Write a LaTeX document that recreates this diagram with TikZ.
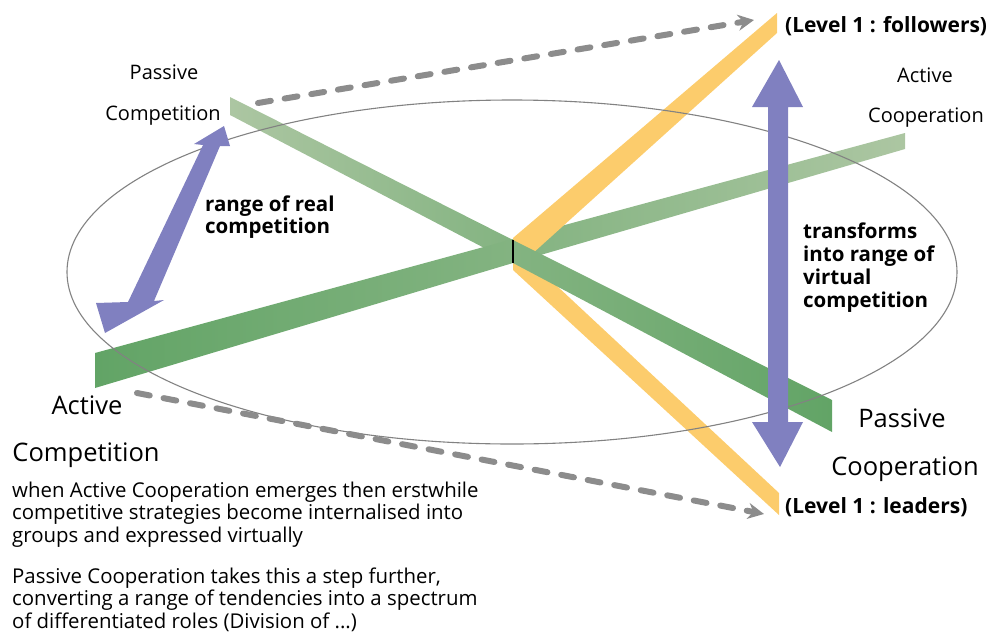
\documentclass[tikz,border=0pt]{standalone}
\usepackage{fontspec}
\setmainfont{Open Sans}
\usetikzlibrary{arrows.meta}
\definecolor{darkG}{RGB}{98,164,102}
\definecolor{lightG}{RGB}{172,198,162}
\colorlet{midG}{darkG!55!lightG}
\definecolor{yel}{RGB}{252,204,108}
\definecolor{blu}{RGB}{128,128,192}
\definecolor{dgray}{RGB}{140,140,140}
\definecolor{egray}{RGB}{130,130,130}
\begin{document}
\begin{tikzpicture}[x=1pt,y=-1pt,
  lbl/.style={font=\fontsize{20}{24}\selectfont, inner sep=0pt, anchor=base},
  biglbl/.style={font=\fontsize{25.5}{30}\selectfont, inner sep=0pt, anchor=base},
  boldlbl/.style={font=\fontsize{20.5}{24}\selectfont\bfseries, inner sep=0pt, anchor=base west},
  lvllbl/.style={font=\fontsize{21}{24}\selectfont\bfseries, inner sep=0pt, anchor=base west},
  para/.style={font=\fontsize{20.4}{24}\selectfont, inner sep=0pt, anchor=base west},
  dashArr/.style={dgray, line width=6pt, line cap=round, dash pattern=on 13pt off 14pt,
     -{Stealth[length=16pt,width=16pt]}}
]
\useasboundingbox (0,0) rectangle (999,635);

% bar 1 right arm (far, light)
\shade[left color=midG, right color=lightG] (513,239) -- (905,133) -- (905,149) -- (513,263) -- cycle;
% yellow bar
\fill[yel] (513,238) -- (777,13) -- (777,33) -- (522,263) -- (513,263) -- cycle;
\fill[yel] (513,245) -- (779,493) -- (779,515) -- (513,270) -- cycle;
% bar 2 left arm (far, light)
\shade[left color=lightG, right color=midG] (230,97) -- (513,240) -- (513,263) -- (230,115) -- cycle;
% bar 1 left arm (near, dark)
\shade[left color=darkG, right color=midG] (95,353) -- (513,239) -- (513,263) -- (95,388) -- cycle;
% bar 2 right arm (near, dark)
\shade[left color=midG, right color=darkG] (513,240) -- (832,400) -- (832,432) -- (513,263) -- cycle;
\draw[line width=1.5pt] (513,240) -- (513,263);

% ellipse
\draw[egray, line width=1.1pt] (512,272) ellipse [x radius=445, y radius=172];

% blue double arrows
\fill[blu] (224,126) -- (230,146) -- (220,146) -- (154,301) -- (164,300) -- (105,333)
  -- (96,303) -- (128,302) -- (203,145) -- (194,144) -- cycle;
\fill[blu] (779,60) -- (803,107) -- (788,107) -- (788,422) -- (803,422) -- (780,467)
  -- (752,422) -- (768,422) -- (768,107) -- (752,107) -- cycle;

% labels
\node[lbl] (pc1) at (164,79) {Passive};
\node[lbl] (pc2) at (163,120) {Competition};
\node[lbl] (ac1) at (925,82) {Active};
\node[lbl] (ac2) at (926,122) {Cooperation};
\node[biglbl] (acomp1) at (87,414) {Active};
\node[biglbl] (acomp2) at (86,461) {Competition};
\node[biglbl] (pcoop1) at (902,427) {Passive};
\node[biglbl] (pcoop2) at (905,475) {Cooperation};
\node[lvllbl] (lvlf) at (785,32) {(Level 1 : followers)};
\node[lvllbl] (lvll) at (785,513) {(Level 1 : leaders)};
\node[boldlbl] (rr1) at (205,211) {range of real};
\node[boldlbl] (rr2) at (205,233) {competition};
\node[boldlbl] (tv1) at (803,238) {transforms};
\node[boldlbl] (tv2) at (803,261) {into range of};
\node[boldlbl] (tv3) at (803,284) {virtual};
\node[boldlbl] (tv4) at (803,307) {competition};
\node[para] (p1) at (12,497) {when Active Cooperation emerges then erstwhile};
\node[para] (p2) at (12,519.5) {competitive strategies become internalised into};
\node[para] (p3) at (12,542) {groups and expressed virtually};
\node[para] (p4) at (12,583) {Passive Cooperation takes this a step further,};
\node[para] (p5) at (12,605.5) {converting a range of tendencies into a spectrum};
\node[para] (p6) at (12,628) {of differentiated roles (Division of ...)};

% dashed connectors
\coordinate (dTopS) at (258,103);
\coordinate (dTopE) at (754,20);
\coordinate (dBotS) at (137,393);
\coordinate (dBotE) at (764,514);
\draw[dashArr] (dTopS) -- (dTopE);
\draw[dashArr] (dBotS) -- (dBotE);
\end{tikzpicture}
\end{document}
